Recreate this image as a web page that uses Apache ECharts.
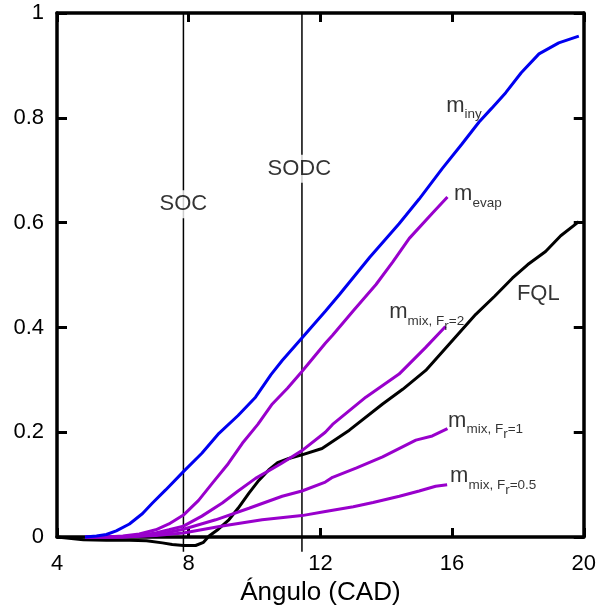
<!DOCTYPE html>
<html>
<head>
<meta charset="utf-8">
<script src="https://cdn.jsdelivr.net/npm/echarts@6/dist/echarts.min.js"></script>
<style>
  html, body { margin: 0; padding: 0; background: #fff; }
  #chart { width: 599px; height: 611px; }
</style>
</head>
<body>
<div id="chart"></div>
<script>
// Mass fractions vs crank angle (CAD)
const xTicks = [4, 8, 12, 16, 20];
const yTicks = [0, 0.2, 0.4, 0.6, 0.8, 1];

const minyAngle = [4.85, 5.2, 5.5, 5.8, 6.2, 6.6, 6.9, 7.3, 7.84, 8.4, 8.92, 9.5, 10.03, 10.5, 10.84, 11.44, 12.15, 12.58, 13.5, 14.39, 14.6, 15.0, 15.7, 16.3, 16.82, 17.2, 17.63, 18.1, 18.64, 19.24, 19.85];
const minyMass  = [0, 0.002, 0.005, 0.012, 0.025, 0.045, 0.065, 0.09, 0.125, 0.16, 0.198, 0.232, 0.267, 0.31, 0.337, 0.38, 0.431, 0.463, 0.534, 0.598, 0.614, 0.645, 0.703, 0.75, 0.792, 0.818, 0.848, 0.886, 0.922, 0.943, 0.956];

const mevapAngle = [4.85, 5.5, 6.0, 6.5, 7.0, 7.4, 7.84, 8.3, 8.72, 9.2, 9.63, 10.1, 10.54, 11.0, 11.44, 12.15, 12.37, 13.0, 13.69, 14.2, 14.7, 15.4, 15.86];
const mevapMass  = [0, 0, 0.002, 0.006, 0.014, 0.025, 0.042, 0.07, 0.103, 0.14, 0.179, 0.215, 0.254, 0.284, 0.316, 0.37, 0.385, 0.432, 0.482, 0.525, 0.57, 0.618, 0.649];

const mix2Angle = [4.85, 5.8, 6.5, 7.0, 7.4, 7.84, 8.4, 9.02, 9.5, 10.03, 10.8, 11.44, 12.15, 12.37, 13.38, 14.39, 15.2, 15.8];
const mix2Mass  = [0, 0, 0.003, 0.008, 0.014, 0.021, 0.04, 0.065, 0.088, 0.112, 0.14, 0.165, 0.2, 0.215, 0.267, 0.311, 0.362, 0.402];

const mix1Angle = [4.85, 6.0, 7.0, 7.84, 8.82, 9.83, 10.84, 11.44, 12.15, 12.37, 13.1, 13.89, 14.9, 15.4, 15.86];
const mix1Mass  = [0, 0, 0.004, 0.015, 0.033, 0.055, 0.078, 0.088, 0.105, 0.114, 0.132, 0.153, 0.185, 0.193, 0.207];

const mix05Angle = [4.85, 6.0, 7.0, 7.84, 9.02, 10.23, 11.44, 12.15, 13.0, 13.6, 14.4, 15.0, 15.5, 15.85];
const mix05Mass  = [0, 0, 0.003, 0.008, 0.021, 0.033, 0.041, 0.049, 0.058, 0.066, 0.078, 0.088, 0.097, 0.1];

const fqlAngle = [4, 4.8, 5.5, 6.2, 6.72, 7.2, 7.5, 7.84, 8.21, 8.45, 8.62, 8.9, 9.22, 9.5, 9.83, 10.1, 10.43, 10.7, 11.04, 11.44, 12.05, 12.88, 13.89, 14.5, 15.2, 15.91, 16.72, 17.3, 17.83, 18.3, 18.84, 19.3, 19.85];
const fqlMass  = [0, -0.005, -0.006, -0.006, -0.007, -0.011, -0.014, -0.016, -0.016, -0.01, 0.002, 0.015, 0.033, 0.055, 0.084, 0.106, 0.128, 0.142, 0.15, 0.157, 0.169, 0.204, 0.254, 0.282, 0.318, 0.368, 0.425, 0.46, 0.494, 0.52, 0.545, 0.575, 0.602];

// Start of combustion / start of diffusion combustion
const socAngle = 7.84;
const sodcAngle = 11.44;

const FONT = '"Liberation Sans", Arial, sans-serif';
const BLUE = '#0000f0';
const PURPLE = '#9900cc';

function zip(xs, ys) { return xs.map((x, i) => [x, ys[i]]); }

function curve(name, xs, ys, color, z) {
  return {
    name, type: 'line', data: zip(xs, ys), showSymbol: false, symbol: 'none',
    clip: false, lineStyle: { color, width: 3 }, z, silent: true, animation: false
  };
}

function vline(x) {
  return {
    type: 'line', data: [[x, -0.028], [x, 1]], symbol: 'none', showSymbol: false,
    clip: false, lineStyle: { color: '#000', width: 1.5 }, z: 1, silent: true, animation: false
  };
}

const rich = {
  m:  { fontFamily: FONT, fontSize: 22, color: '#000', verticalAlign: 'bottom', padding: [0, 0, 10, 0] },
  s:  { fontFamily: FONT, fontSize: 13.5, color: '#000', verticalAlign: 'bottom', padding: [0, 0, 5, 0] },
  r:  { fontFamily: FONT, fontSize: 13.5, color: '#000', verticalAlign: 'bottom', padding: [0, 0, 0, 0] },
  t:  { fontFamily: FONT, fontSize: 22, color: '#000' },
  box:{ fontFamily: FONT, fontSize: 22, color: '#000', backgroundColor: '#fff', padding: [3, 0, 3, 0] }
};

const annotations = [
  { at: [15.82, 0.814], text: '{m|m}{s|iny}', align: 'left' },
  { at: [16.06, 0.645], text: '{m|m}{s|evap}', align: 'left' },
  { at: [14.09, 0.42], text: '{m|m}{s|mix, F}{r|r}{s|=2}', align: 'left' },
  { at: [15.88, 0.213], text: '{m|m}{s|mix, F}{r|r}{s|=1}', align: 'left' },
  { at: [15.94, 0.107], text: '{m|m}{s|mix, F}{r|r}{s|=0.5}', align: 'left' },
  { at: [17.97, 0.464], text: '{t|FQL}', align: 'left' },
  { at: [socAngle, 0.635], text: '{box|SOC}', align: 'center' },
  { at: [sodcAngle - 0.08, 0.703], text: '{box|SODC}', align: 'center' }
];

const labelSeries = {
  type: 'scatter', symbolSize: 0, z: 10, silent: true, animation: false,
  data: annotations.map(a => ({
    value: a.at,
    label: {
      show: true, position: [0, 0], align: a.align, verticalAlign: 'middle',
      formatter: a.text, rich
    }
  }))
};

const axisLineStyle = { color: '#000', width: 3.5 };
const tickStyle = { color: '#000', width: 3 };

const option = {
  backgroundColor: '#fff',
  animation: false,
  grid: { left: 57, right: 14, top: 13, bottom: 70, containLabel: false },
  xAxis: [
    {
      type: 'value', min: xTicks[0], max: xTicks[xTicks.length - 1], interval: 4,
      position: 'bottom',
      name: 'Ángulo (CAD)', nameLocation: 'middle', nameGap: 38,
      nameTextStyle: { fontFamily: FONT, fontSize: 26, color: '#000' },
      axisLine: { show: true, onZero: false, lineStyle: axisLineStyle },
      axisTick: { show: true, inside: true, length: 9, lineStyle: tickStyle },
      axisLabel: { fontFamily: FONT, fontSize: 22, color: '#000', margin: 16 },
      splitLine: { show: false }
    },
    {
      type: 'value', min: xTicks[0], max: xTicks[xTicks.length - 1], interval: 4,
      position: 'top',
      axisLine: { show: true, onZero: false, lineStyle: axisLineStyle },
      axisTick: { show: true, inside: true, length: 9, lineStyle: tickStyle },
      axisLabel: { show: false },
      splitLine: { show: false }
    }
  ],
  yAxis: [
    {
      type: 'value', min: yTicks[0], max: yTicks[yTicks.length - 1], interval: 0.2,
      position: 'left',
      axisLine: { show: true, onZero: false, lineStyle: axisLineStyle },
      axisTick: { show: true, inside: true, length: 10, lineStyle: tickStyle },
      axisLabel: { fontFamily: FONT, fontSize: 22, color: '#000', margin: 13 },
      splitLine: { show: false }
    },
    {
      type: 'value', min: yTicks[0], max: yTicks[yTicks.length - 1], interval: 0.2,
      position: 'right',
      axisLine: { show: true, onZero: false, lineStyle: axisLineStyle },
      axisTick: { show: true, inside: true, length: 10, lineStyle: tickStyle },
      axisLabel: { show: false },
      splitLine: { show: false }
    }
  ],
  series: [
    vline(socAngle),
    vline(sodcAngle),
    curve('FQL', fqlAngle, fqlMass, '#000', 2),
    curve('m_mix, Fr=0.5', mix05Angle, mix05Mass, PURPLE, 3),
    curve('m_mix, Fr=1', mix1Angle, mix1Mass, PURPLE, 3),
    curve('m_mix, Fr=2', mix2Angle, mix2Mass, PURPLE, 3),
    curve('m_evap', mevapAngle, mevapMass, PURPLE, 3),
    curve('m_iny', minyAngle, minyMass, BLUE, 4),
    labelSeries
  ]
};

const chart = echarts.init(document.getElementById('chart'), null, { renderer: 'canvas' });
chart.setOption(option);
</script>
</body>
</html>
